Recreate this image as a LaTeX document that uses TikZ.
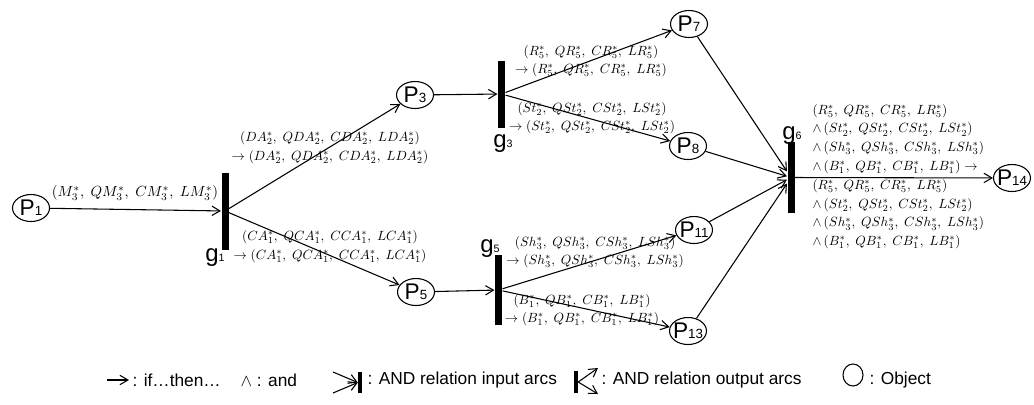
\documentclass[tikz,border=0pt]{standalone}
\usepackage{fix-cm}
\usepackage{fontspec}
\setmainfont{Liberation Sans}
\usetikzlibrary{shapes.geometric,arrows.meta}

\newcommand{\pobj}[1]{\makebox[14pt]{\fontsize{17}{17}\selectfont P\fontsize{10}{10}\selectfont #1}}
\newcommand{\gate}[1]{{\fontsize{18}{18}\selectfont g}{\fontsize{8}{8}\selectfont #1}}
\newcommand{\tup}[2]{\left(#1^*_{#2},\;Q#1^*_{#2},\;C#1^*_{#2},\;L#1^*_{#2}\right)}

\tikzset{
  obj/.style={draw, ellipse, minimum width=27.75pt, minimum height=20.25pt, inner sep=0pt},
  bar/.style={fill, inner sep=0pt, minimum width=5.25pt},
  rule/.style={font=\fontsize{10}{14}\selectfont, align=center, inner sep=0pt},
  legend/.style={font=\fontsize{13}{15}\selectfont, anchor=west, inner sep=0pt},
}

\begin{document}
\begin{tikzpicture}[x=0.75pt, y=-0.75pt, line width=0.8pt, >={Straight Barb[length=6pt,width=7pt]}]
  \useasboundingbox (0,0) rectangle (1034,404);

  % objects
  \node[obj] (P1) at (31,208) {\pobj{1}};
  \node[obj] (P3) at (415,95) {\pobj{3}};
  \node[obj] (P5) at (416,292) {\pobj{5}};
  \node[obj] (P7) at (689,24) {\pobj{7}};
  \node[obj] (P8) at (688,146) {\pobj{8}};
  \node[obj] (P11) at (694,230) {\pobj{11}};
  \node[obj] (P13) at (688,331) {\pobj{13}};
  \node[obj] (P14) at (1012,178) {\pobj{14}};

  % AND gates
  \node[bar, minimum height=57.75pt] (g1) at (225,211) {};
  \node[bar, minimum height=50.25pt] (g3) at (501.5,94) {};
  \node[bar, minimum height=52.5pt] (g5) at (498.5,290) {};
  \node[bar, minimum height=53.25pt] (g6) at (791,177.5) {};

  \node (g1lbl) at (215,258) {\gate{1}};
  \node (g3lbl) at (503,144) {\gate{3}};
  \node (g5lbl) at (490,249) {\gate{5}};
  \node (g6lbl) at (792,136) {\gate{6}};

  % arcs
  \draw[->] (P1) -- (g1);
  \draw[->] (g1) -- (P3);
  \draw[->] (g1) -- (P5);
  \draw[->] (P3) -- (g3);
  \draw[->] (P5) -- (g5);
  \draw[->] (g3) -- (P7);
  \draw[->] (g3) -- (P8);
  \draw[->] (g5) -- (P11);
  \draw[->] (g5) -- (P13);
  \draw[->] (P7) -- (g6);
  \draw[->] (P8) -- (g6);
  \draw[->] (P11) -- (g6);
  \draw[->] (P13) -- (g6);
  \draw[->] (g6) -- (P14);

  % rules
  \node[rule, font=\fontsize{11}{14}\selectfont] (ruleM) at (135,193) {$\tup{M}{3}$};
  \node[rule] (ruleDA) at (330,147.5) {$\tup{DA}{2}$\\$\rightarrow\tup{DA}{2}$};
  \node[rule] (ruleCA) at (330,246.5) {$\tup{CA}{1}$\\$\rightarrow\tup{CA}{1}$};
  \node[rule] (ruleR) at (591,61) {$\tup{R}{5}$\\$\rightarrow\tup{R}{5}$};
  \node[rule] (ruleSt) at (592,118) {$\tup{St}{2}$\\$\rightarrow\tup{St}{2}$};
  \node[rule] (ruleSh) at (595,252) {$\tup{Sh}{3}$\\$\rightarrow\tup{Sh}{3}$};
  \node[rule] (ruleB) at (582,310) {$\tup{B}{1}$\\$\rightarrow\tup{B}{1}$};
  \node[rule, align=left, anchor=south west] (ruleIf) at (812,174)
    {$\tup{R}{5}$\\$\wedge\tup{St}{2}$\\$\wedge\tup{Sh}{3}$\\$\wedge\tup{B}{1}\rightarrow$};
  \node[rule, align=left, anchor=north west] (ruleThen) at (812,179)
    {$\tup{R}{5}$\\$\wedge\tup{St}{2}$\\$\wedge\tup{Sh}{3}$\\$\wedge\tup{B}{1}$};

  % legend
  \coordinate (lgA) at (107,380);
  \coordinate (lgB) at (129,380);
  \draw[->] (lgA) -- (lgB);
  \node[legend] (lgIf) at (132,380) {: if…then…};
  \node[legend] (lgAnd) at (240,380) {$\wedge$ : and};
  \coordinate (inA) at (333,372);
  \coordinate (inB) at (333,393);
  \node[bar, minimum width=2.5pt, minimum height=16pt] (inBar) at (360,382.5) {};
  \draw[->] (inA) -- (inBar.west);
  \draw[->] (inB) -- (inBar.west);
  \node[legend] (lgIn) at (367,380) {: AND relation input arcs};
  \node[bar, minimum width=2.5pt, minimum height=17pt] (outBar) at (576,382) {};
  \coordinate (outA) at (598,368);
  \coordinate (outB) at (598,394);
  \draw[->] (outBar.east) -- (outA);
  \draw[->] (outBar.east) -- (outB);
  \node[legend] (lgOut) at (601,380) {: AND relation output arcs};
  \node[obj, minimum width=15pt, minimum height=16.5pt] (lgObj) at (853,375) {};
  \node[legend] (lgObjTxt) at (869,380) {: Object};
\end{tikzpicture}
\end{document}
